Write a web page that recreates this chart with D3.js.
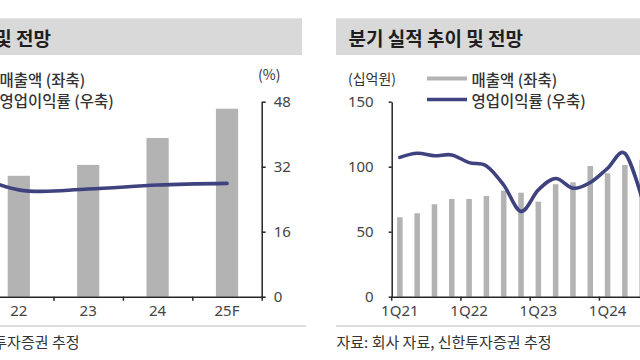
<!DOCTYPE html>
<html><head><meta charset="utf-8">
<script src="https://cdn.jsdelivr.net/npm/d3@7"></script>
<style>
html,body{margin:0;padding:0;background:#fff;}
svg{display:block;font-family:"Noto Sans CJK KR","Noto Sans",sans-serif;}
</style></head>
<body><svg id="c" width="640" height="360"></svg>
<script>
// ---- Annual chart (left panel) ----
const annualCats = ["21", "22", "23", "24", "25F"];
const annualSales = [272, 310, 338, 407, 482];          // 매출액 (좌축, 십억원)
const annualMargin = [32.4, 26.3, 26.5, 27.5, 27.9];    // 영업이익률 (우축, %)
const annualRightTicks = [0, 16, 32, 48];
const annualLabels = ["22", "23", "24", "25F"];
const annualTitle = "연간 실적 추이 및 전망";

// ---- Quarterly chart (right panel) ----
const quarterCats = ["1Q21","2Q21","3Q21","4Q21","1Q22","2Q22","3Q22","4Q22",
  "1Q23","2Q23","3Q23","4Q23","1Q24","2Q24","3Q24","4Q24","1Q25F","2Q25F","3Q25F","4Q25F"];
const quarterSales = [61.1, 64.2, 71.1, 75.2, 75.2, 77.5, 81.5, 80.0, 73.1, 86.5, 88.0, 100.5, 94.9, 101.3, 105.5];
const quarterMargin = [34.3, 35.3, 34.7, 34.9, 33.0, 32.2, 27.5, 21.0, 26.3, 29.1, 26.7, 28.1, 31.6, 35.3, 24.0];
const quarterLeftTicks = [0, 50, 100, 150];
const quarterLabels = ["1Q21", "1Q22", "1Q23", "1Q24"];
const quarterTitle = "분기 실적 추이 및 전망";

const legendNames = ["매출액 (좌축)", "영업이익률 (우축)"];
const sourceText = "자료: 회사 자료, 신한투자증권 추정";

const svg = d3.select("#c");
const C = {bar: "#b3b3b3", line: "#3e4380", axis: "#262626", text: "#333", head: "#d9d9d9"};
const yTop = 101.7, yBot = 296.7;

function panel(o) {
  const g = svg.append("g");
  const x0 = o.x0;
  g.append("rect").attr("x", x0).attr("y", 18.3).attr("width", 438).attr("height", 36.7).attr("fill", C.head);
  g.append("text").attr("x", x0 + 12.5).attr("y", 37.5).attr("dominant-baseline", "central")
    .attr("font-size", 19).attr("font-weight", 700).attr("fill", "#1e1e1e").text(o.title);
  // unit labels
  if (o.showLeftAxis) g.append("text").attr("x", x0 + 12).attr("y", 77.5).attr("dominant-baseline", "central")
    .attr("font-size", 14).attr("fill", C.text).text("(십억원)");
  if (o.showRightAxis) g.append("text").attr("x", x0 + 394).attr("y", 74).attr("dominant-baseline", "central")
    .attr("font-size", 14).attr("fill", C.text).text("(%)");
  // legend
  const lg = [{c: C.bar, w: 4, y: 78.5}, {c: C.line, w: 3.5, y: 99.5}];
  lg.forEach((l, i) => {
    g.append("line").attr("x1", x0 + 91).attr("x2", x0 + 131).attr("y1", l.y).attr("y2", l.y)
      .attr("stroke", l.c).attr("stroke-width", l.w);
    g.append("text").attr("x", x0 + 135.5).attr("y", l.y).attr("dominant-baseline", "central")
      .attr("font-size", 15.5).attr("font-weight", 500).attr("fill", C.text).text(legendNames[i]);
  });

  const x = d3.scaleBand().domain(o.cats).range(o.xRange).paddingInner(0.68).paddingOuter(0.34);
  const xi = d3.scaleLinear().domain([0, o.cats.length]).range(o.xRange);
  const yL = d3.scaleLinear().domain([0, o.leftMax]).range([yBot, yTop]);
  const yR = d3.scaleLinear().domain([0, 48]).range([yBot, yTop]);

  g.append("g").selectAll("rect").data(o.sales).join("rect")
    .attr("x", (d, i) => x(o.cats[i])).attr("width", x.bandwidth())
    .attr("y", d => yL(d)).attr("height", d => yBot - yL(d)).attr("fill", C.bar);

  const line = d3.line().x((d, i) => x(o.cats[i]) + x.bandwidth() / 2).y(d => yR(d)).curve(d3.curveCardinal);
  g.append("path").datum(o.margin).attr("d", line).attr("fill", "none")
    .attr("stroke", C.line).attr("stroke-width", 3.6).attr("stroke-linejoin", "round").attr("stroke-linecap", "round");

  const axes = [];
  if (o.showLeftAxis) axes.push(g.append("g").attr("transform", `translate(${o.leftAxisX},0)`)
    .call(d3.axisLeft(yL).tickValues(o.leftTicks).tickSize(3).tickSizeOuter(0).tickPadding(15)));
  if (o.showRightAxis) axes.push(g.append("g").attr("transform", `translate(${o.rightAxisX},0)`)
    .call(d3.axisRight(yR).tickValues(annualRightTicks).tickSize(4).tickSizeOuter(0).tickPadding(8)));
  axes.forEach(a => {
    a.select(".domain").attr("stroke", C.axis).attr("stroke-width", 1.5);
    a.selectAll(".tick line").attr("stroke", C.axis).attr("stroke-width", 1.5);
    a.selectAll("text").attr("font-size", 15).attr("fill", "#444").attr("font-family", "'Noto Sans',sans-serif");
  });
  // x axis: boundary ticks
  const bounds = d3.range(0, o.cats.length + 1, o.tickEvery);
  const xb = g.append("g").attr("transform", `translate(0,${yBot})`)
    .call(d3.axisBottom(xi).tickValues(bounds).tickSize(4).tickSizeOuter(0).tickFormat(""));
  xb.select(".domain").attr("stroke", C.axis).attr("stroke-width", 1.5);
  xb.selectAll(".tick line").attr("stroke", C.axis).attr("stroke-width", 1.5);
  const xl = g.append("g").attr("transform", `translate(0,${yBot})`)
    .call(d3.axisBottom(x).tickValues(o.labels).tickSize(0).tickPadding(9));
  xl.select(".domain").remove();
  xl.selectAll("text").attr("font-size", 15).attr("fill", "#444").attr("font-family", "'Noto Sans',sans-serif");

  // source
  g.append("line").attr("x1", x0).attr("x2", x0 + 442).attr("y1", 326).attr("y2", 326)
    .attr("stroke", "#bdbdbd").attr("stroke-width", 1);
  g.append("text").attr("x", x0 + 0.5).attr("y", 341.5).attr("dominant-baseline", "central")
    .attr("font-size", 15).attr("fill", C.text).text(sourceText);
}

panel({x0: -136, title: annualTitle, cats: annualCats, sales: annualSales, margin: annualMargin,
  leftMax: 500, leftTicks: [], labels: annualLabels, showLeftAxis: false, showRightAxis: true,
  xRange: [-85.3, 261.7], leftAxisX: -80.3, rightAxisX: 261.7, tickEvery: 1});
panel({x0: 336, title: quarterTitle, cats: quarterCats, sales: quarterSales, margin: quarterMargin,
  leftMax: 150, leftTicks: quarterLeftTicks, labels: quarterLabels, showLeftAxis: true, showRightAxis: false,
  xRange: [391.2, 737.4], leftAxisX: 391.7, rightAxisX: 733.7, tickEvery: 4});
</script></body></html>
